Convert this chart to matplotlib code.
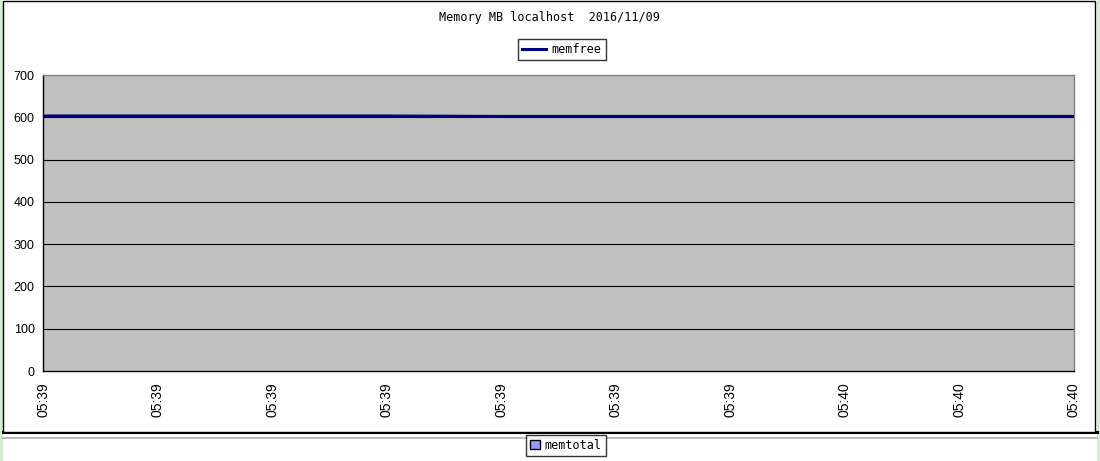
import matplotlib.pyplot as plt
from matplotlib.patches import Rectangle, Patch
from matplotlib.lines import Line2D

# 数据
times = ['05:39', '05:39', '05:39', '05:39', '05:39', '05:39', '05:39', '05:40', '05:40', '05:40']
memfree = [603, 603, 603, 603, 602, 602, 602, 602, 602, 602]
yticks = [0, 100, 200, 300, 400, 500, 600, 700]
title = 'Memory MB localhost  2016/11/09'

W, H = 1100, 461
fig = plt.figure(figsize=(W / 100, H / 100), dpi=100)
fig.patch.set_facecolor('white')

# 外框 (Excel 风格)，放在坐标轴下面
fig.patches.append(Rectangle((0, 0), 3 / W, 1, transform=fig.transFigure,
                             facecolor='#d8ead2', edgecolor='none', zorder=-2))
fig.patches.append(Rectangle((1097 / W, 0), 3 / W, 1, transform=fig.transFigure,
                             facecolor='#d8ead2', edgecolor='none', zorder=-2))
fig.patches.append(Rectangle((3 / W, (H - 432) / H), (1095 - 3) / W, 431 / H,
                             transform=fig.transFigure, facecolor='white',
                             edgecolor='black', linewidth=1.0, zorder=-1))
fig.lines.append(Line2D([3 / W, 1097 / W], [(H - 432) / H] * 2, transform=fig.transFigure,
                        color='black', linewidth=2.2, zorder=-1))
fig.lines.append(Line2D([3 / W, 1097 / W], [(H - 438) / H] * 2, transform=fig.transFigure,
                        color='#b0b0b8', linewidth=1.2, zorder=-1))

ax = fig.add_axes([43 / W, (H - 371) / H, (1074 - 43) / W, (371 - 75) / H])
ax.set_facecolor('#c0c0c0')

x = list(range(len(times)))
for v in yticks[1:-1]:
    ax.axhline(v, color='black', linewidth=0.8, zorder=1)
ax.plot(x, memfree, color='#000080', linewidth=2.2, zorder=3, label='memfree')

ax.set_xlim(0, len(times) - 1)
ax.set_ylim(0, 700)
ax.set_yticks(yticks)
ax.set_xticks(x)
ax.set_xticklabels(times, rotation=90, fontsize=10, family='Liberation Sans')
for lab in ax.get_yticklabels():
    lab.set_family('Liberation Sans')
    lab.set_fontsize(9)
ax.tick_params(axis='x', length=0, pad=8)
ax.tick_params(axis='y', length=0, pad=6)

for s in ['left', 'bottom']:
    ax.spines[s].set_color('black')
    ax.spines[s].set_linewidth(1.0)
for s in ['top', 'right']:
    ax.spines[s].set_color('#808080')
    ax.spines[s].set_linewidth(1.0)

fig.text(549 / W, 1 - 17 / H, title, ha='center', va='center',
         fontsize=8.5, family='DejaVu Sans Mono')

leg = fig.legend(handles=[Line2D([], [], color='#000080', linewidth=2.2)], labels=['memfree'],
                 loc='center', bbox_to_anchor=(562 / W, 1 - 49.5 / H),
                 prop={'family': 'DejaVu Sans Mono', 'size': 8.5},
                 frameon=True, fancybox=False, edgecolor='black', borderpad=0.35,
                 handlelength=2.0, handletextpad=0.5)
leg.get_frame().set_linewidth(1.0)

leg2 = fig.legend(handles=[Patch(facecolor='#9999ff', edgecolor='black')], labels=['memtotal'],
                  loc='center', bbox_to_anchor=(566 / W, 1 - 445.5 / H),
                  prop={'family': 'DejaVu Sans Mono', 'size': 8.5},
                  frameon=True, fancybox=False, edgecolor='black', borderpad=0.35,
                  handlelength=0.8, handleheight=0.8, handletextpad=0.4)
leg2.get_frame().set_linewidth(1.0)

fig.savefig('out.png', dpi=100)
